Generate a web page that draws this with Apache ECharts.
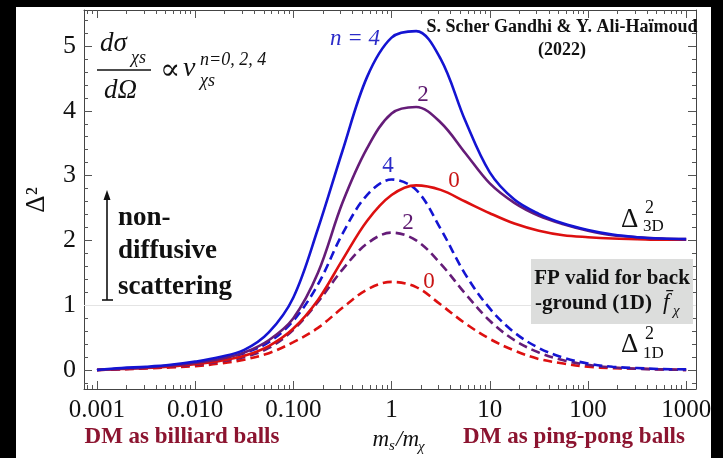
<!DOCTYPE html>
<html>
<head>
<meta charset="utf-8">
<script src="https://cdn.jsdelivr.net/npm/echarts@6/dist/echarts.min.js"></script>
<style>
html,body{margin:0;padding:0;background:#000;}
#chart{width:723px;height:458px;}
</style>
</head>
<body>
<div id="chart"></div>
<script>
// ---- data ----
// mass ratio m_s / m_chi (x values, quarter-decade steps)
const massRatio = [0.001, 0.00178, 0.00316, 0.00562, 0.01, 0.0178, 0.0316, 0.0562, 0.1, 0.178,
                   0.316, 0.562, 1, 1.78, 3.16, 5.62, 10, 17.8, 31.6, 56.2,
                   100, 178, 316, 562, 1000];
// Delta^2_3D (solid)
const n4_3D = [0, 0.03, 0.05, 0.08, 0.13, 0.2, 0.31, 0.58, 1.12, 2.18, 3.38, 4.52, 5.13,
               5.23, 4.8, 3.85, 3.05, 2.63, 2.41, 2.26, 2.16, 2.09, 2.05, 2.03, 2.02];
const n2_3D = [0, 0.02, 0.04, 0.07, 0.11, 0.17, 0.27, 0.46, 0.8, 1.5, 2.58, 3.42, 3.96,
               4.06, 3.82, 3.35, 2.88, 2.58, 2.38, 2.25, 2.15, 2.08, 2.05, 2.03, 2.02];
const n0_3D = [0, 0.015, 0.03, 0.055, 0.09, 0.14, 0.22, 0.37, 0.64, 1.08, 1.7, 2.3, 2.7,
               2.85, 2.78, 2.6, 2.42, 2.26, 2.15, 2.08, 2.05, 2.03, 2.02, 2.01, 2.01];
// Delta^2_1D (dashed)
const n4_1D = [0, 0.02, 0.04, 0.07, 0.11, 0.17, 0.26, 0.43, 0.76, 1.32, 2.1, 2.7, 2.94,
               2.78, 2.18, 1.48, 0.95, 0.58, 0.34, 0.19, 0.1, 0.05, 0.03, 0.015, 0.01];
const n2_1D = [0, 0.015, 0.03, 0.05, 0.08, 0.13, 0.2, 0.34, 0.62, 1.05, 1.55, 1.95, 2.12,
               2.0, 1.64, 1.18, 0.76, 0.46, 0.27, 0.15, 0.08, 0.04, 0.02, 0.01, 0];
const n0_1D = [0, 0.012, 0.025, 0.04, 0.06, 0.1, 0.16, 0.26, 0.43, 0.65, 0.96, 1.24, 1.36,
               1.28, 1.01, 0.72, 0.48, 0.3, 0.17, 0.1, 0.05, 0.03, 0.02, 0.01, 0];
// tick labels
const xTickValues = [0.001, 0.01, 0.1, 1, 10, 100, 1000];
const xTickLabels = ['0.001', '0.010', '0.100', '1', '10', '100', '1000'];
const yTickValues = [0, 1, 2, 3, 4, 5];

// ---- build ----
const lg = v => Math.log10(v);
const xMajor = xTickValues.map(lg);
const xMinor = [];
for (let d = -4; d <= 3; d++) for (let k = 2; k <= 9; k++) xMinor.push(lg(k * Math.pow(10, d)));
const yMinor = [];
for (let i = -1; i <= 27; i++) { if (i % 5 !== 0) yMinor.push(+(i * 0.2).toFixed(2)); }

const XMIN = -3.132, XMAX = 3.1, YMIN = -0.293, YMAX = 5.556;
const SERIF = "'Liberation Serif','DejaVu Serif',serif";
const AX = '#444';

function xAx(pos, vals, len, labels, line) {
  return {
    type: 'value', position: pos, min: XMIN, max: XMAX,
    axisLine: {show: line, onZero: false, lineStyle: {color: AX, width: 1}},
    axisTick: {show: true, inside: true, length: len, customValues: vals, lineStyle: {color: '#555'}},
    axisLabel: labels ? {
      show: true, customValues: xMajor, margin: 9,
      fontFamily: SERIF, fontSize: 25, color: '#111',
      formatter: v => { const i = xMajor.findIndex(t => Math.abs(t - v) < 1e-6); return i >= 0 ? xTickLabels[i] : ''; }
    } : {show: false},
    splitLine: {show: false}
  };
}
function yAx(pos, vals, len, labels, line) {
  return {
    type: 'value', position: pos, min: YMIN, max: YMAX,
    axisLine: {show: line, onZero: false, lineStyle: {color: AX, width: 1}},
    axisTick: {show: true, inside: true, length: len, customValues: vals, lineStyle: {color: '#555'}},
    axisLabel: labels ? {
      show: true, customValues: yTickValues, margin: 8,
      fontFamily: SERIF, fontSize: 26, color: '#111',
      formatter: v => String(Math.round(v))
    } : {show: false},
    splitLine: {show: false}
  };
}

function mk(name, ys, color, dashed) {
  return {
    name, type: 'line', xAxisIndex: 0, yAxisIndex: 0,
    data: massRatio.map((m, i) => [lg(m), ys[i]]),
    smooth: 0.35, showSymbol: false, symbol: 'none',
    lineStyle: {color, width: 2.6, type: dashed ? [9, 5] : 'solid'},
    z: dashed ? 3 : 4
  };
}

const BLUE = '#1414d2', PURPLE = '#651c78', RED = '#dd1010';
const series = [
  mk('n=0 1D', n0_1D, RED, true),
  mk('n=2 1D', n2_1D, PURPLE, true),
  mk('n=4 1D', n4_1D, BLUE, true),
  mk('n=0 3D', n0_3D, RED, false),
  mk('n=2 3D', n2_3D, PURPLE, false),
  mk('n=4 3D', n4_3D, BLUE, false)
];
series[0].markLine = {
  silent: true, symbol: 'none', label: {show: false},
  lineStyle: {color: '#e4e4e4', width: 1, type: 'solid'},
  data: [{yAxis: 1}], z: 1
};

function txt(x, y, text, size, opts) {
  opts = opts || {};
  return {
    type: 'text', x, y, rotation: opts.rot || 0, z: 100,
    style: {
      text, fill: opts.color || '#111',
      font: (opts.style || '') + ' ' + (opts.weight || 'normal') + ' ' + size + 'px ' + SERIF,
      align: opts.align || 'left', verticalAlign: 'middle'
    }
  };
}

const graphic = [
  // black frame of the video
  {type: 'rect', shape: {x: 0, y: 0, width: 16, height: 458}, style: {fill: '#000'}, z: 200},
  {type: 'rect', shape: {x: 711, y: 0, width: 12, height: 458}, style: {fill: '#000'}, z: 200},
  {type: 'rect', shape: {x: 0, y: 0, width: 723, height: 7}, style: {fill: '#000'}, z: 200},
  // grey box
  {type: 'rect', shape: {x: 531, y: 259, width: 162, height: 65}, style: {fill: '#dcdddc'}, z: 50},
  txt(612, 279, 'FP valid for back', 21, {weight: 'bold', align: 'center'}),
  txt(535, 304, '-ground (1D)', 21, {weight: 'bold'}),
  txt(663, 303, 'f\u0304', 23, {style: 'italic'}),
  txt(673, 311, '\u03c7', 15, {style: 'italic'}),
  // formula
  txt(100, 44, 'd\u03c3', 27, {style: 'italic'}),
  txt(131, 58, '\u03c7s', 18, {style: 'italic'}),
  {type: 'line', shape: {x1: 97, y1: 70, x2: 151, y2: 70}, style: {stroke: '#111', lineWidth: 1.6}, z: 100},
  txt(104, 91, 'd\u03a9', 27, {style: 'italic'}),
  txt(160, 71, '\u221d', 30),
  txt(183, 69, 'v', 28, {style: 'italic'}),
  txt(200, 60, 'n=0, 2, 4', 18, {style: 'italic'}),
  txt(200, 81, '\u03c7s', 18, {style: 'italic'}),
  // authors
  txt(562, 27, 'S. Scher Gandhi & Y. Ali-Ha\u00efmoud', 18, {weight: 'bold', align: 'center'}),
  txt(562, 50, '(2022)', 18, {weight: 'bold', align: 'center'}),
  // curve labels
  txt(355, 39, 'n = 4', 23, {style: 'italic', color: '#2b2bc8', align: 'center'}),
  txt(423, 95, '2', 23, {color: '#5e1a70', align: 'center'}),
  txt(388, 166, '4', 23, {color: '#2b2bc8', align: 'center'}),
  txt(454, 181, '0', 23, {color: '#c81414', align: 'center'}),
  txt(408, 223, '2', 23, {color: '#5e1a70', align: 'center'}),
  txt(429, 282, '0', 23, {color: '#c81414', align: 'center'}),
  // Delta labels
  txt(621, 220, '\u0394', 27),
  txt(645, 208, '2', 18),
  txt(643, 227, '3D', 17),
  txt(621, 345, '\u0394', 27),
  txt(645, 334, '2', 18),
  txt(643, 354, '1D', 17),
  // non-diffusive scattering
  txt(118, 218, 'non-', 27, {weight: 'bold'}),
  txt(118, 251, 'diffusive', 27, {weight: 'bold'}),
  txt(118, 287, 'scattering', 27, {weight: 'bold'}),
  {type: 'line', shape: {x1: 107, y1: 198, x2: 107, y2: 300}, style: {stroke: '#111', lineWidth: 1.6}, z: 100},
  {type: 'line', shape: {x1: 102, y1: 300, x2: 113, y2: 300}, style: {stroke: '#111', lineWidth: 1.6}, z: 100},
  {type: 'polygon', shape: {points: [[107, 190], [103.5, 200], [110.5, 200]]}, style: {fill: '#111'}, z: 100},
  // axis titles
  txt(37, 200, '\u0394\u00b2', 27, {rot: Math.PI / 2, align: 'center'}),
  txt(389, 440, 'm', 23, {style: 'italic', align: 'right'}),
  txt(389, 446, 's', 15, {style: 'italic'}),
  txt(396, 440, '/m', 23, {style: 'italic'}),
  txt(418, 447, '\u03c7', 15, {style: 'italic'}),
  // bottom captions
  txt(182, 437, 'DM as billiard balls', 23, {weight: 'bold', color: '#8c1430', align: 'center'}),
  txt(574, 437, 'DM as ping-pong balls', 23, {weight: 'bold', color: '#8c1430', align: 'center'})
];

const chart = echarts.init(document.getElementById('chart'), null, {renderer: 'canvas'});
chart.setOption({
  backgroundColor: '#fff',
  animation: false,
  grid: {left: 84, right: 27, top: 10, bottom: 69, containLabel: false},
  xAxis: [
    xAx('bottom', xMajor, 8, true, true),
    xAx('bottom', xMinor, 4, false, false),
    xAx('top', xMajor, 8, false, true),
    xAx('top', xMinor, 4, false, false)
  ],
  yAxis: [
    yAx('left', yTickValues, 8, true, true),
    yAx('left', yMinor, 4, false, false),
    yAx('right', yTickValues, 8, false, true),
    yAx('right', yMinor, 4, false, false)
  ],
  series,
  graphic
});
</script>
</body>
</html>
